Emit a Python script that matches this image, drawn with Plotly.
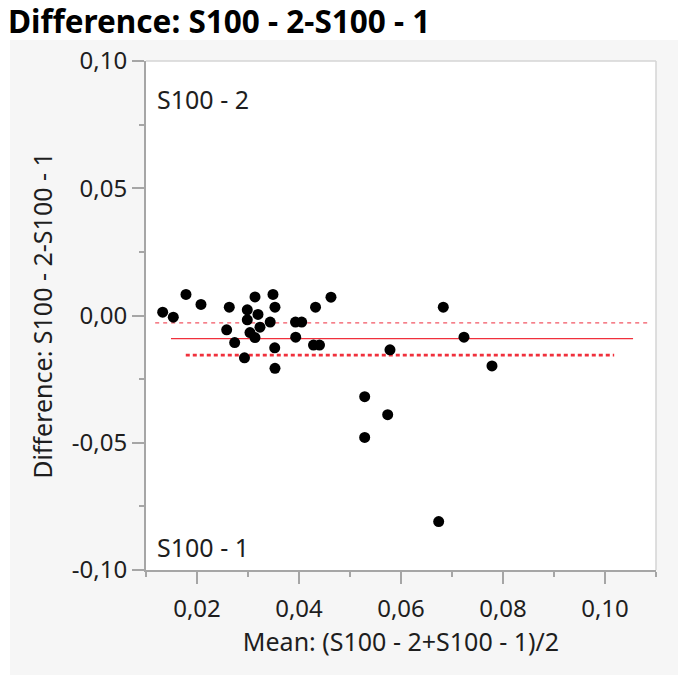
import plotly.graph_objects as go

# Bland-Altman style data: mean of the two measurements vs their difference
mean_x = [0.01327, 0.01535, 0.01784, 0.02078, 0.02633, 0.02582, 0.02739, 0.02931,
          0.02986, 0.02986, 0.03137, 0.03196, 0.03039, 0.03137, 0.03235, 0.03490,
          0.03529, 0.03435, 0.03524, 0.03529, 0.03931, 0.04053, 0.03935, 0.04284,
          0.04402, 0.04324, 0.04627, 0.05784, 0.05288, 0.05739, 0.05288, 0.06739,
          0.06829, 0.07235, 0.07784]
diff_y = [0.00130, -0.00067, 0.00827, 0.00433, 0.00327, -0.00563, -0.01063, -0.01665,
          0.00224, -0.00169, 0.00728, 0.00040, -0.00669, -0.00866, -0.00460, 0.00827,
          0.00327, -0.00256, -0.01272, -0.02075, -0.00256, -0.00256, -0.00854, -0.01161,
          -0.01161, 0.00327, 0.00720, -0.01350, -0.03189, -0.03898, -0.04791, -0.08098,
          0.00327, -0.00854, -0.01980]

# Reference lines: mean difference and its confidence limits
ref_names = ["Upper CI", "Mean difference", "Lower CI"]
ref_values = [-0.0029, -0.0091, -0.0156]
ref_x_start = [0.0118, 0.0149, 0.0178]
ref_x_end = [0.1086, 0.1055, 0.1018]

x_ticks = [0.02, 0.04, 0.06, 0.08, 0.10]
x_tick_labels = ["0,02", "0,04", "0,06", "0,08", "0,10"]
y_ticks = [-0.10, -0.05, 0.00, 0.05, 0.10]
y_tick_labels = ["-0,10", "-0,05", "0,00", "0,05", "0,10"]

title_text = "Difference: S100 - 2-S100 - 1"
x_title = "Mean: (S100 - 2+S100 - 1)/2"
y_title = "Difference: S100 - 2-S100 - 1"
top_label = "S100 - 2"
bottom_label = "S100 - 1"

RED = "#f0303c"
FONT = "Noto Sans"
TXT = "#1e1e1e"
AX = "#a6a6a6"

fig = go.Figure()

styles = [dict(color="#f25563", width=1.3, dash="4px,4px"),
          dict(color=RED, width=1.3, dash="solid"),
          dict(color=RED, width=2.8, dash="4px,3px")]
for name, v, x0, x1, st in zip(ref_names, ref_values, ref_x_start, ref_x_end, styles):
    fig.add_trace(go.Scatter(x=[x0, x1], y=[v, v], mode="lines", name=name,
                             line=st, hoverinfo="skip", showlegend=False))

fig.add_trace(go.Scatter(x=mean_x, y=diff_y, mode="markers", showlegend=False,
                         marker=dict(color="black", size=11, line=dict(width=0))))

axis_common = dict(showgrid=False, zeroline=False, showline=True, linecolor=AX,
                   linewidth=2, ticks="outside", ticklen=12, tickwidth=2, tickcolor=AX,
                   tickfont=dict(family=FONT, size=24, color=TXT),
                   title_font=dict(family=FONT, size=25, color=TXT))

fig.update_xaxes(range=[0.01, 0.11], tickvals=x_ticks, ticktext=x_tick_labels,
                 ticklabelstandoff=4,
                 minor=dict(dtick=0.01, tick0=0.0, ticks="outside", ticklen=5,
                            tickwidth=2, tickcolor=AX),
                 title_text=x_title, title_standoff=2, **axis_common)
fig.update_yaxes(range=[-0.10, 0.10], tickvals=y_ticks, ticktext=y_tick_labels,
                 ticklabelstandoff=0,
                 minor=dict(dtick=0.025, tick0=0.0, ticks="outside", ticklen=5,
                            tickwidth=2, tickcolor=AX),
                 title_text=y_title, title_standoff=12, **axis_common)

# background regions and frame
fig.add_shape(type="rect", xref="paper", yref="paper", x0=-0.35, x1=1.1, y0=1.0413, y1=1.2,
              fillcolor="white", line_width=0, layer="below")
fig.add_shape(type="rect", xref="paper", yref="paper", x0=-0.35, x1=-0.2667, y0=-0.3, y1=1.2,
              fillcolor="white", line_width=0, layer="below")
fig.add_shape(type="line", xref="paper", yref="paper", x0=0, x1=1, y0=1, y1=1,
              line=dict(color="#d4d4d4", width=1.5))
fig.add_shape(type="line", xref="paper", yref="paper", x0=1, x1=1, y0=0, y1=1,
              line=dict(color="#d4d4d4", width=1.5))

fig.add_annotation(text=top_label, xref="paper", yref="paper", x=0.018, y=0.925,
                   xanchor="left", yanchor="middle", showarrow=False,
                   font=dict(family=FONT, size=25, color=TXT))
fig.add_annotation(text=bottom_label, xref="paper", yref="paper", x=0.018, y=0.045,
                   xanchor="left", yanchor="middle", showarrow=False,
                   font=dict(family=FONT, size=25, color=TXT))

fig.update_layout(
    width=678, height=675,
    margin=dict(l=146, r=22, t=61, b=105),
    paper_bgcolor="#f6f6f6", plot_bgcolor="white",
    title=dict(text="<b>" + title_text + "</b>", x=8 / 678, xanchor="left",
               y=1 - 22 / 675, yanchor="middle",
               font=dict(family=FONT, size=31.5, color="black")),
)

fig.write_html("out.html")
